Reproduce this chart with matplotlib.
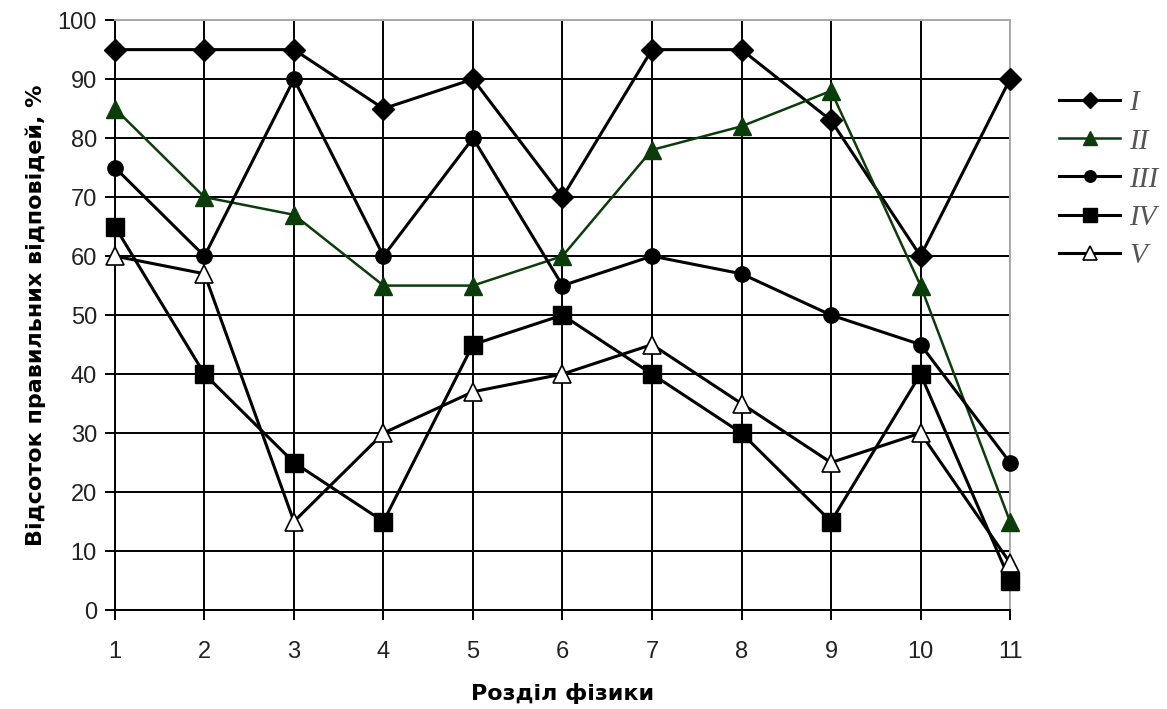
import matplotlib.pyplot as plt

# розділи фізики 1..11
sections = [1, 2, 3, 4, 5, 6, 7, 8, 9, 10, 11]
group_names = ['I', 'II', 'III', 'IV', 'V']
vals_I = [95, 95, 95, 85, 90, 70, 95, 95, 83, 60, 90]
vals_II = [85, 70, 67, 55, 55, 60, 78, 82, 88, 55, 15]
vals_III = [75, 60, 90, 60, 80, 55, 60, 57, 50, 45, 25]
vals_IV = [65, 40, 25, 15, 45, 50, 40, 30, 15, 40, 5]
vals_V = [60, 57, 15, 30, 37, 40, 45, 35, 25, 30, 8]

green = '#0b3d0b'
styles = [
    dict(color='black', lw=2.2, marker='D', ms=11, mfc='black', mec='black'),
    dict(color=green, lw=1.8, marker='^', ms=13, mfc=green, mec=green),
    dict(color='black', lw=2.2, marker='o', ms=11, mfc='black', mec='black'),
    dict(color='black', lw=2.2, marker='s', ms=13, mfc='black', mec='black'),
    dict(color='black', lw=2.2, marker='^', ms=13, mfc='white', mec='black', mew=1.2),
]

fig = plt.figure(figsize=(11.67, 7.09), dpi=100)
ax = fig.add_axes([0.0985, 0.1396, 0.767, 0.832])

handles = []
for vals, st, name in zip([vals_I, vals_II, vals_III, vals_IV, vals_V], styles, group_names):
    ln, = ax.plot(sections, vals, label=name, zorder=3, clip_on=False, **st)
    handles.append(ln)

ax.set_xlim(1, 11)
ax.set_ylim(0, 100)
ax.set_xticks(sections)
ax.set_yticks(range(0, 101, 10))
ax.grid(True, color='black', lw=1.4)
ax.set_axisbelow(True)
for s in ['top', 'right']:
    ax.spines[s].set_color('#aaaaaa')
    ax.spines[s].set_linewidth(1.4)
for s in ['left', 'bottom']:
    ax.spines[s].set_linewidth(1.4)
ax.tick_params(direction='out', length=7, width=1.4, labelsize=17, pad=6, colors='black')
ax.tick_params(axis='x', pad=15)
for lab in ax.get_xticklabels() + ax.get_yticklabels():
    lab.set_fontfamily('Liberation Sans')
    lab.set_color('#222222')

ax.set_xlabel('Розділ фізики', fontsize=16, fontweight='bold', labelpad=15)
ax.set_ylabel('Відсоток правильних відповідей, %', fontsize=16, fontweight='bold', labelpad=8)

leg = fig.legend(handles=handles, loc='upper left', bbox_to_anchor=(0.885, 0.91),
                 frameon=False, handlelength=2.1, labelspacing=0.4, handletextpad=0.3,
                 markerscale=0.75,
                 prop=dict(family='Liberation Serif', style='italic', size=21))
for t in leg.get_texts():
    t.set_color('#555555')

fig.savefig('out.png', dpi=100)
